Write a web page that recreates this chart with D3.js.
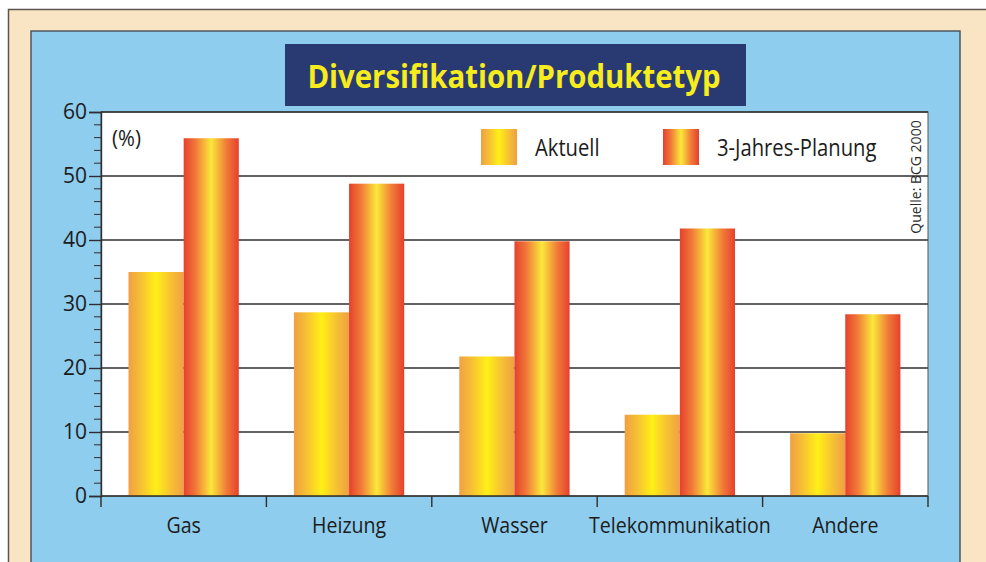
<!DOCTYPE html>
<html>
<head>
<meta charset="utf-8">
<script src="https://cdn.jsdelivr.net/npm/d3@7"></script>
<style>
  body { margin: 0; background: #ffffff; overflow: hidden; }
  svg { display: block; font-family: "Open Sans", sans-serif; }
</style>
</head>
<body>
<div class="chart"></div>
<script>
// values (percent)
var categories = ["Gas", "Heizung", "Wasser", "Telekommunikation", "Andere"];
var aktuell = [35, 28.7, 21.8, 12.7, 9.8];
var planung = [55.9, 48.8, 39.8, 41.8, 28.4];
var seriesNames = ["Aktuell", "3-Jahres-Planung"];
var yTicks = [0, 10, 20, 30, 40, 50, 60];
var yMinorTicks = d3.range(0, 61, 2);

var W = 986, H = 562;
var plot = { left: 101, right: 928, top: 112, bottom: 496 };

// the printed type is a narrow face, squeeze Open Sans horizontally
function squeeze(sel, sx) {
  sel.each(function() {
    var t = d3.select(this);
    var x = +t.attr("x") || 0, y = +t.attr("y") || 0;
    t.attr("x", 0).attr("y", 0)
      .attr("transform", "translate(" + x + "," + y + ") scale(" + sx + ",1)");
  });
}

var svg = d3.select(".chart").append("svg")
  .attr("width", W)
  .attr("height", H);

var defs = svg.append("defs");

function barGradient(id, edge, mid) {
  var g = defs.append("linearGradient")
    .attr("id", id)
    .attr("x1", "0%").attr("x2", "100%")
    .attr("y1", "0%").attr("y2", "0%");
  g.append("stop").attr("offset", "0%").attr("stop-color", edge);
  g.append("stop").attr("offset", "22%").attr("stop-color", mid[0]);
  g.append("stop").attr("offset", "50%").attr("stop-color", mid[1]);
  g.append("stop").attr("offset", "78%").attr("stop-color", mid[0]);
  g.append("stop").attr("offset", "100%").attr("stop-color", edge);
}
barGradient("gradAkt", "#efa043", ["#f6bf35", "#fff016"]);
barGradient("gradPlan", "#e6402e", ["#f07a38", "#fbe83a"]);
var fills = ["url(#gradAkt)", "url(#gradPlan)"];

// frame: beige page, blue panel
svg.append("rect")
  .attr("x", 8.5).attr("y", 9.5)
  .attr("width", W + 20).attr("height", H + 20)
  .attr("fill", "#f9e4c3")
  .attr("stroke", "#5a5550").attr("stroke-width", 1.5);

svg.append("rect")
  .attr("x", 31).attr("y", 31)
  .attr("width", 929).attr("height", H)
  .attr("fill", "#8ecdee")
  .attr("stroke", "#4d5560").attr("stroke-width", 1.5);

// title box
svg.append("rect")
  .attr("x", 285).attr("y", 44)
  .attr("width", 461).attr("height", 62)
  .attr("fill", "#293a72");

svg.append("text")
  .attr("x", 514).attr("y", 88)
  .attr("text-anchor", "middle")
  .attr("font-size", 33)
  .attr("font-weight", "bold")
  .attr("fill", "#f7ec1c")
  .text("Diversifikation/Produktetyp")
  .call(squeeze, 0.89);

// plot area
svg.append("rect")
  .attr("x", plot.left).attr("y", plot.top)
  .attr("width", plot.right - plot.left)
  .attr("height", plot.bottom - plot.top)
  .attr("fill", "#ffffff")
  .attr("stroke", "#555").attr("stroke-width", 1);

var x0 = d3.scaleBand()
  .domain(categories)
  .range([plot.left, plot.right])
  .padding(0);

var x1 = d3.scaleBand()
  .domain(seriesNames)
  .range([27.5, 137.8])
  .padding(0);

var y = d3.scaleLinear()
  .domain([0, 60])
  .range([plot.bottom, plot.top]);

// gridlines
svg.append("g")
  .attr("class", "grid")
  .selectAll("line")
  .data(yTicks.slice(1))
  .enter()
  .append("line")
  .attr("x1", plot.left).attr("x2", plot.right)
  .attr("y1", function(d) { return y(d); })
  .attr("y2", function(d) { return y(d); })
  .attr("stroke", "#2e2e2e")
  .attr("stroke-width", 1.4);

// bars
var groups = svg.append("g")
  .selectAll("g")
  .data(categories)
  .enter()
  .append("g")
  .attr("transform", function(d) { return "translate(" + x0(d) + ",0)"; });

groups.selectAll("rect")
  .data(function(d, i) {
    return [
      { series: seriesNames[0], value: aktuell[i], k: 0 },
      { series: seriesNames[1], value: planung[i], k: 1 }
    ];
  })
  .enter()
  .append("rect")
  .attr("x", function(d) { return x1(d.series); })
  .attr("y", function(d) { return y(d.value); })
  .attr("width", x1.bandwidth())
  .attr("height", function(d) { return y(0) - y(d.value); })
  .attr("fill", function(d) { return fills[d.k]; });

// y axis
var yAxis = d3.axisLeft(y)
  .tickValues(yTicks)
  .tickSize(12)
  .tickPadding(2)
  .tickFormat(d3.format("d"));

var yg = svg.append("g")
  .attr("transform", "translate(" + plot.left + ",0)")
  .call(yAxis);

yg.append("g")
  .selectAll("line")
  .data(yMinorTicks.filter(function(d) { return d % 10 !== 0; }))
  .enter()
  .append("line")
  .attr("x1", -7).attr("x2", 0)
  .attr("y1", function(d) { return y(d); })
  .attr("y2", function(d) { return y(d); })
  .attr("stroke", "#2e2e2e");

yg.select(".domain").attr("stroke", "#2e2e2e").attr("stroke-width", 1.4);
yg.selectAll(".tick line").attr("stroke", "#2e2e2e").attr("stroke-width", 1.4);
yg.selectAll(".tick text")
  .attr("font-size", 21)
  .attr("font-family", "Open Sans, sans-serif")
  .attr("fill", "#1c1c1c");

// x axis: ticks at band edges, labels at band centres
var xEdges = categories.map(function(c) { return x0(c); }).concat([plot.right]);

var xg = svg.append("g")
  .attr("transform", "translate(0," + plot.bottom + ")");

xg.append("line")
  .attr("x1", plot.left).attr("x2", plot.right)
  .attr("stroke", "#2e2e2e").attr("stroke-width", 1.4);

xg.selectAll(".xtick")
  .data(xEdges)
  .enter()
  .append("line")
  .attr("class", "xtick")
  .attr("x1", function(d) { return d; })
  .attr("x2", function(d) { return d; })
  .attr("y1", 0).attr("y2", 11)
  .attr("stroke", "#2e2e2e").attr("stroke-width", 1.4);

xg.selectAll(".xlabel")
  .data(categories)
  .enter()
  .append("text")
  .attr("class", "xlabel")
  .attr("x", function(d) { return x0(d) + x0.bandwidth() / 2; })
  .attr("y", 37)
  .attr("text-anchor", "middle")
  .attr("font-size", 22.5)
  .attr("fill", "#1c1c1c")
  .text(function(d) { return d; })
  .call(squeeze, 0.87);

// unit label
svg.append("text")
  .attr("x", 112).attr("y", 146)
  .attr("font-size", 22)
  .attr("fill", "#1c1c1c")
  .text("(%)")
  .call(squeeze, 0.93);

// legend
var legendX = [481, 663];
var legend = svg.append("g")
  .selectAll("g")
  .data(seriesNames)
  .enter()
  .append("g")
  .attr("transform", function(d, i) { return "translate(" + legendX[i] + ",129)"; });

legend.append("rect")
  .attr("width", 36).attr("height", 36)
  .attr("fill", function(d, i) { return fills[i]; });

legend.append("text")
  .attr("x", 54).attr("y", 27)
  .attr("font-size", 23.5)
  .attr("fill", "#1c1c1c")
  .text(function(d) { return d; })
  .call(squeeze, 0.86);

// source
svg.append("text")
  .attr("transform", "translate(921,177) rotate(-90)")
  .attr("text-anchor", "middle")
  .attr("font-size", 14)
  .attr("fill", "#2a2a2a")
  .text("Quelle: BCG 2000");
</script>
</body>
</html>
